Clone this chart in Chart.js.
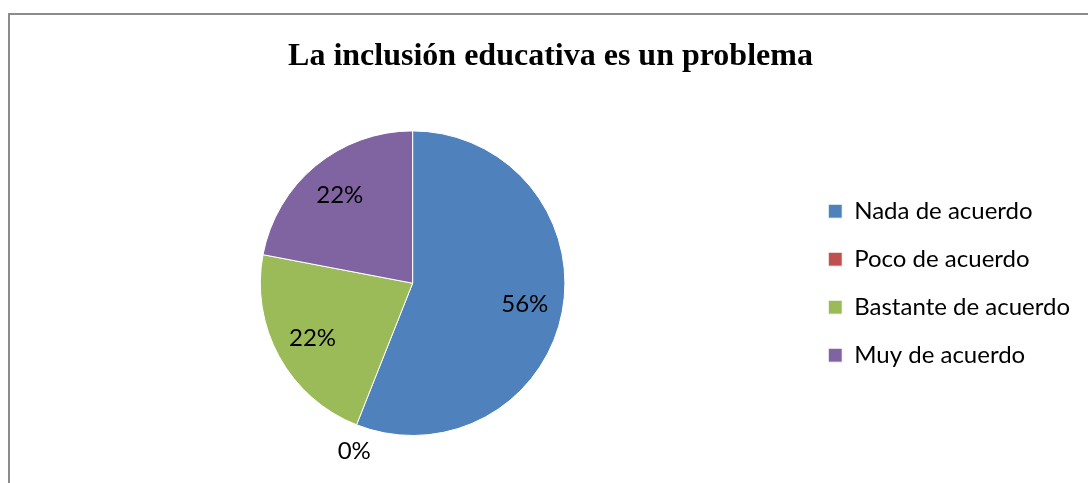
<!DOCTYPE html>
<html>
<head>
<meta charset="utf-8">
<script src="https://cdn.jsdelivr.net/npm/chart.js@4"></script>
<style>
  html, body { margin: 0; padding: 0; background: #fff; }
  #wrap { position: relative; width: 1088px; height: 483px; }
</style>
</head>
<body>
<div id="wrap"><canvas id="pieChart"></canvas></div>
<script>
const categories = ['Nada de acuerdo', 'Poco de acuerdo', 'Bastante de acuerdo', 'Muy de acuerdo'];
const percents = [56, 0, 22, 22];
const sliceColors = ['#4F81BD', '#C0504D', '#9BBB59', '#8064A2'];

const bodyFont = 'Lato, "Open Sans", sans-serif';

// grey frame on the left and top edges
const framePlugin = {
    id: 'frame',
    beforeDraw(chart) {
        const c = chart.ctx;
        c.save();
        c.fillStyle = '#8c8c8c';
        c.fillRect(8, 13, 2, chart.height - 13);
        c.fillRect(8, 13, chart.width - 8, 2);
        c.restore();
    }
};

// percent labels inside the slices, zero slices get the label outside
const sliceLabels = {
    id: 'sliceLabels',
    afterDatasetsDraw(chart) {
        const c = chart.ctx;
        const meta = chart.getDatasetMeta(0);
        c.save();
        c.font = '24px ' + bodyFont;
        c.fillStyle = '#000';
        c.textAlign = 'center';
        c.textBaseline = 'middle';
        meta.data.forEach((arc, i) => {
            const p = arc.getProps(['x', 'y', 'startAngle', 'endAngle', 'outerRadius'], true);
            const mid = (p.startAngle + p.endAngle) / 2;
            const value = chart.data.datasets[0].data[i];
            let x, y;
            if (value === 0) {
                const r = p.outerRadius + 28;
                x = p.x + Math.cos(mid) * r + 8;
                y = p.y + Math.sin(mid) * r;
            } else {
                const r = p.outerRadius * 0.75;
                x = p.x + Math.cos(mid) * r;
                y = p.y + Math.sin(mid) * r;
            }
            c.fillText(value + '%', x, y);
        });
        c.restore();
    }
};

new Chart(document.getElementById('pieChart'), {
    type: 'pie',
    data: {
        labels: categories,
        datasets: [{
            data: percents,
            backgroundColor: sliceColors,
            borderColor: '#ffffff',
            borderWidth: 1
        }]
    },
    options: {
        responsive: true,
        maintainAspectRatio: false,
        animation: false,
        layout: { padding: { left: 21, right: 8, top: 0, bottom: 47 } },
        plugins: {
            title: {
                display: true,
                text: 'La inclusión educativa es un problema',
                color: '#000',
                font: { family: '"Liberation Serif", "Times New Roman", serif', size: 32, weight: 'bold' },
                padding: { top: 38, bottom: 54 }
            },
            legend: {
                position: 'right',
                fullSize: false,
                labels: {
                    color: '#000',
                    font: { family: bodyFont, size: 24 },
                    boxWidth: 14,
                    boxHeight: 14,
                    padding: 24
                }
            },
            tooltip: { enabled: false }
        }
    },
    plugins: [framePlugin, sliceLabels]
});
</script>
</body>
</html>
